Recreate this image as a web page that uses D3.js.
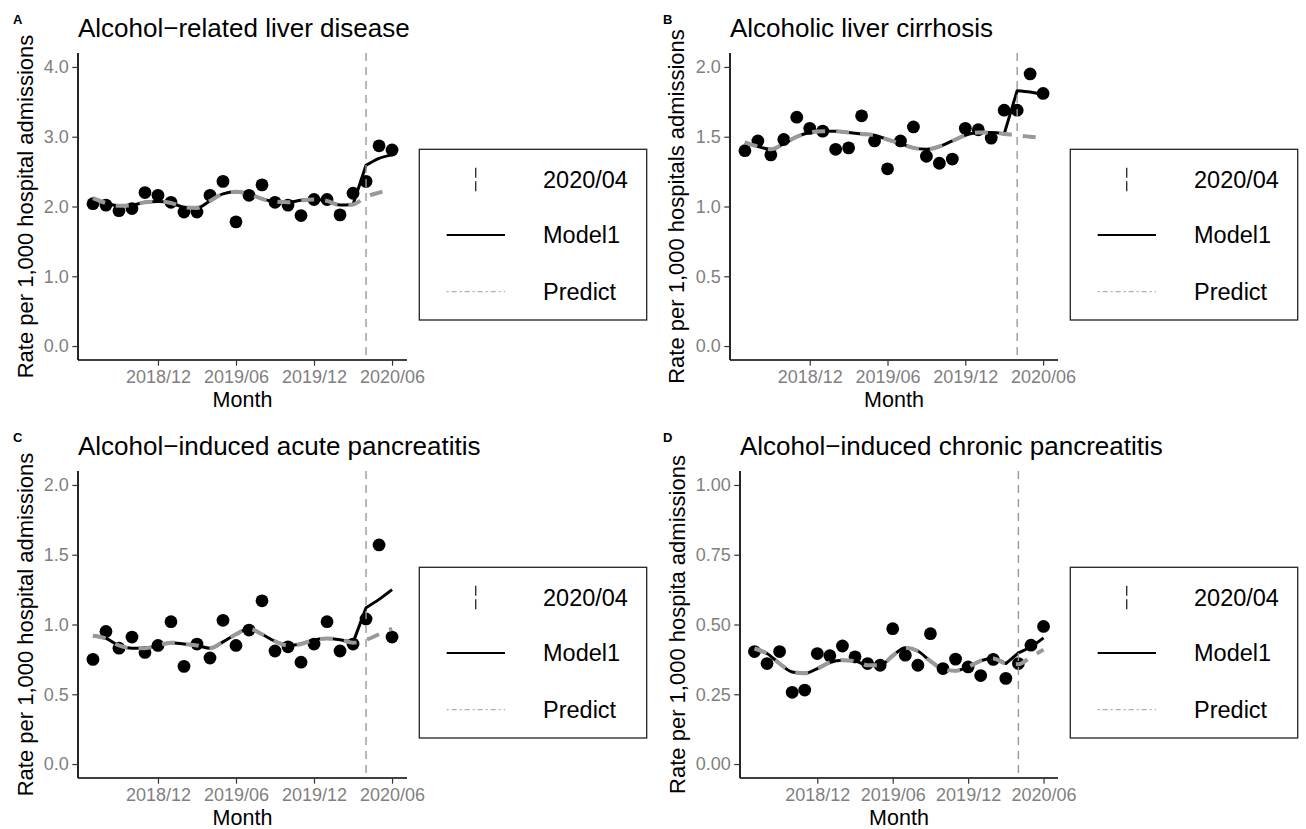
<!DOCTYPE html>
<html>
<head>
<meta charset="utf-8">
<script src="https://cdn.jsdelivr.net/npm/d3@7"></script>
<style>
html,body{margin:0;padding:0;background:#fff;}
svg{display:block;font-family:"Liberation Sans",Arial,Helvetica,sans-serif;}
</style>
</head>
<body>
<svg id="chart" width="1306" height="829"></svg>
<script>
// ---------------- data ----------------
const months = ["2018/07","2018/08","2018/09","2018/10","2018/11","2018/12","2019/01","2019/02","2019/03","2019/04","2019/05","2019/06","2019/07","2019/08","2019/09","2019/10","2019/11","2019/12","2020/01","2020/02","2020/03","2020/04","2020/05","2020/06"];
const xTickLabels = ["2018/12","2019/06","2019/12","2020/06"];
const interventionMonth = "2020/04";
const legendLabels = ["2020/04","Model1","Predict"];
const panelLetters = ["A","B","C","D"];
const panelTitles = ["Alcohol\u2212related liver disease","Alcoholic liver cirrhosis","Alcohol\u2212induced acute pancreatitis","Alcohol\u2212induced chronic pancreatitis"];
const yTitles = ["Rate per 1,000 hospital admissions","Rate per 1,000 hospitals admissions","Rate per 1,000 hospital admissions","Rate per 1,000 hospita admissions"];
const xTitle = "Month";

const yTicksA = [0,1,2,3,4];
const yTicksB = [0,0.5,1,1.5,2];
const yTicksC = [0,0.5,1,1.5,2];
const yTicksD = [0,0.25,0.5,0.75,1];

const observedA = [2.04,2.02,1.94,1.97,2.20,2.16,2.06,1.92,1.92,2.16,2.36,1.78,2.16,2.31,2.06,2.02,1.87,2.10,2.10,1.88,2.19,2.36,2.87,2.81];
const model1A   = [2.12,2.05,2.01,2.02,2.06,2.07,2.05,1.99,1.98,2.08,2.18,2.21,2.18,2.11,2.07,2.06,2.09,2.10,2.08,2.02,2.03,2.59,2.69,2.74];
const predictA  = [2.12,2.05,2.01,2.02,2.06,2.07,2.05,1.99,1.98,2.08,2.18,2.21,2.18,2.11,2.07,2.06,2.09,2.10,2.08,2.02,2.03,2.14,2.20,2.25];

const observedB = [1.40,1.47,1.37,1.48,1.64,1.56,1.54,1.41,1.42,1.65,1.47,1.27,1.47,1.57,1.36,1.31,1.34,1.56,1.55,1.49,1.69,1.69,1.95,1.81];
const model1B   = [1.46,1.43,1.41,1.45,1.50,1.53,1.54,1.54,1.53,1.52,1.51,1.48,1.45,1.42,1.41,1.43,1.47,1.51,1.53,1.53,1.52,1.83,1.82,1.80];
const predictB  = [1.46,1.43,1.41,1.45,1.50,1.53,1.54,1.54,1.53,1.52,1.51,1.48,1.45,1.42,1.41,1.43,1.47,1.51,1.53,1.53,1.52,1.51,1.50,1.49];

const observedC = [0.75,0.95,0.83,0.91,0.80,0.85,1.02,0.70,0.86,0.76,1.03,0.85,0.96,1.17,0.81,0.84,0.73,0.86,1.02,0.81,0.86,1.04,1.57,0.91];
const model1C   = [0.92,0.90,0.85,0.83,0.83,0.85,0.87,0.86,0.85,0.83,0.875,0.93,0.97,0.93,0.88,0.85,0.86,0.89,0.90,0.89,0.87,1.12,1.18,1.25];
const predictC  = [0.92,0.90,0.85,0.83,0.83,0.85,0.87,0.86,0.85,0.83,0.875,0.93,0.97,0.93,0.88,0.85,0.86,0.89,0.90,0.89,0.87,0.89,0.93,0.97];

const observedD = [0.403,0.36,0.403,0.257,0.265,0.396,0.388,0.423,0.384,0.36,0.354,0.485,0.39,0.354,0.467,0.342,0.376,0.348,0.317,0.375,0.307,0.36,0.426,0.493];
const model1D   = [0.414,0.396,0.36,0.33,0.325,0.342,0.364,0.372,0.369,0.354,0.354,0.388,0.417,0.405,0.369,0.34,0.334,0.348,0.37,0.378,0.36,0.398,0.42,0.452];
const predictD  = [0.414,0.396,0.36,0.33,0.325,0.342,0.364,0.372,0.369,0.354,0.354,0.388,0.417,0.405,0.369,0.34,0.334,0.348,0.37,0.378,0.36,0.358,0.384,0.41];

// ---------------- layout ----------------
const panels = [
  {letter:panelLetters[0], title:panelTitles[0], yTitle:yTitles[0], yTicks:yTicksA, yMax:4, fmt:d3.format(".1f"), obs:observedA, model:model1A, pred:predictA, ox:0,   oy:0,   left:78,  right:407, yTitleX:33.3},
  {letter:panelLetters[1], title:panelTitles[1], yTitle:yTitles[1], yTicks:yTicksB, yMax:2, fmt:d3.format(".1f"), obs:observedB, model:model1B, pred:predictB, ox:650, oy:0,   left:80,  right:408, yTitleX:34},
  {letter:panelLetters[2], title:panelTitles[2], yTitle:yTitles[2], yTicks:yTicksC, yMax:2, fmt:d3.format(".1f"), obs:observedC, model:model1C, pred:predictC, ox:0,   oy:418, left:78,  right:407, yTitleX:33.3},
  {letter:panelLetters[3], title:panelTitles[3], yTitle:yTitles[3], yTicks:yTicksD, yMax:1, fmt:d3.format(".2f"), obs:observedD, model:model1D, pred:predictD, ox:650, oy:418, left:90,  right:408, yTitleX:35}
];
const TOP = 53, BOTTOM = 360;

const svg = d3.select("#chart");
svg.append("rect").attr("width",1306).attr("height",829).attr("fill","#fff");

panels.forEach(p => {
  const g = svg.append("g").attr("transform", `translate(${p.ox},${p.oy})`);
  const n = months.length;
  const padX = (n-1)*0.05;
  const x = d3.scaleLinear().domain([-padX, n-1+padX]).range([p.left, p.right]);
  const padY = p.yMax*0.05;
  const y = d3.scaleLinear().domain([-padY, p.yMax+padY]).range([BOTTOM, TOP]);
  const idx = m => months.indexOf(m);
  const cut = idx(interventionMonth);

  // points
  g.append("g").selectAll("circle").data(p.obs).join("circle")
    .attr("cx",(d,i)=>x(i)).attr("cy",d=>y(d)).attr("r",6.4).attr("fill","#000");

  // model line: smooth before and after, straight jump between
  const pts = arr => arr.map((v,i)=>[x(i),y(v)]);
  const smooth = d3.line().curve(d3.curveMonotoneX);
  const straight = d3.line();
  const modelD = pts(p.model);
  const mPath = smooth(modelD.slice(0,cut)) + "L" + modelD[cut][0] + "," + modelD[cut][1] +
                smooth(modelD.slice(cut)).replace(/^M/,"L");
  g.append("path").attr("d",mPath)
    .attr("fill","none").attr("stroke","#000").attr("stroke-width",3).attr("stroke-linejoin","round");
  // predict line
  const predD = pts(p.pred);
  g.append("path").attr("d",smooth(predD))
    .attr("fill","none").attr("stroke","#999999").attr("stroke-width",4)
    .attr("stroke-dasharray","13,11");

  // intervention vline
  g.append("line").attr("x1",x(cut)).attr("x2",x(cut))
    .attr("y1",TOP).attr("y2",BOTTOM)
    .attr("stroke","#999999").attr("stroke-width",1.4).attr("stroke-dasharray","8,6");

  // axes
  const yAxis = d3.axisLeft(y).tickValues(p.yTicks).tickFormat(p.fmt).tickSize(5.7).tickSizeOuter(0).tickPadding(3.5);
  const ya = g.append("g").attr("transform",`translate(${p.left},0)`).call(yAxis);
  const xAxis = d3.axisBottom(x).tickValues(xTickLabels.map(idx)).tickFormat(i=>months[i]).tickSize(5.7).tickSizeOuter(0).tickPadding(4.5);
  const xa = g.append("g").attr("transform",`translate(0,${BOTTOM})`).call(xAxis);
  [ya,xa].forEach(a=>{
    a.select(".domain").attr("stroke","#000").attr("stroke-width",1.7);
    a.selectAll(".tick line").attr("stroke","#333").attr("stroke-width",1.2);
    a.selectAll(".tick text").attr("fill","#7f7f7f").style("font-size","18px")
      .style("font-family",'"Liberation Sans",Arial,Helvetica,sans-serif');
  });
  ya.select(".domain").attr("d",`M0,${TOP}V${BOTTOM}`);
  xa.select(".domain").attr("d",`M${p.left},0H${p.right}`);

  // titles
  g.append("text").attr("x",p.left).attr("y",36.7).text(p.title)
    .attr("font-size",26).attr("fill","#000");
  g.append("text").attr("x",13).attr("y",24).text(p.letter)
    .attr("font-size",13).attr("font-weight","bold").attr("fill","#000");
  g.append("text").attr("x",(p.left+p.right)/2).attr("y",407).attr("text-anchor","middle")
    .text(xTitle).attr("font-size",21.5).attr("fill","#000");
  g.append("text").attr("transform",`translate(${p.yTitleX},${(TOP+BOTTOM)/2}) rotate(-90)`)
    .attr("text-anchor","middle").text(p.yTitle).attr("font-size",22).attr("fill","#000");

  // legend
  const lg = g.append("g").attr("transform",`translate(${p.right+12.3},149.3)`);
  lg.append("rect").attr("width",227.4).attr("height",170.7)
    .attr("fill","#fff").attr("stroke","#222").attr("stroke-width",1.3);
  const rows = [30.7, 85.7, 142.4];
  lg.append("line").attr("x1",56.4).attr("x2",56.4).attr("y1",rows[0]-12.3).attr("y2",rows[0]+12.3)
    .attr("stroke","#333").attr("stroke-width",1.4).attr("stroke-dasharray","10,3.5");
  lg.append("line").attr("x1",27.4).attr("x2",85.7).attr("y1",rows[1]).attr("y2",rows[1])
    .attr("stroke","#000").attr("stroke-width",1.8);
  lg.append("line").attr("x1",27.4).attr("x2",85.7).attr("y1",rows[2]).attr("y2",rows[2])
    .attr("stroke","#999").attr("stroke-width",1).attr("stroke-dasharray","2,3,5,3");
  lg.selectAll("text.lab").data(legendLabels).join("text").attr("class","lab")
    .attr("x",123.7).attr("y",(d,i)=>rows[i]).attr("dy","0.36em")
    .text(d=>d).attr("font-size",23.5).attr("fill","#000");
});
</script>
</body>
</html>
